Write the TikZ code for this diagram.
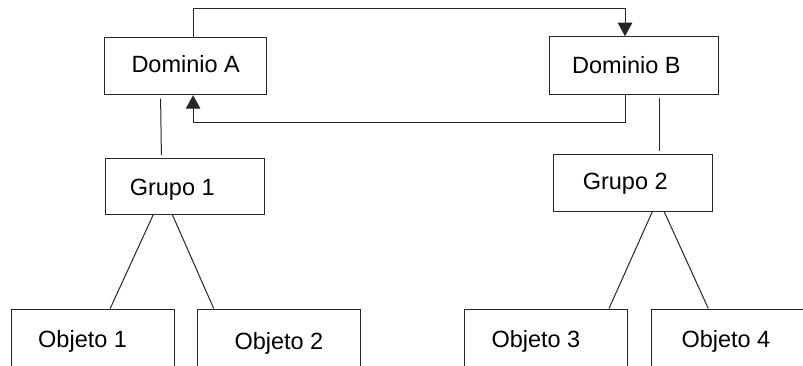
\documentclass[tikz,border=0pt]{standalone}
\usepackage{fontspec}
\setmainfont{Liberation Sans}
\usetikzlibrary{arrows.meta}
\begin{document}
\begin{tikzpicture}[x=1pt,y=-1pt,
  line width=1pt,
  boxnode/.style={draw=black!85, rectangle, inner sep=0pt, line width=1pt},
  lbl/.style={anchor=base west, inner sep=0pt, font=\fontsize{23.5}{28}\selectfont},
  conn/.style={draw=black!85, line width=1pt},
  arr/.style={conn, -{Triangle[length=13.5pt,width=14.5pt]}}]
\clip (0,0) rectangle (803,365);
\fill[white] (0,0) rectangle (803,365);
% boxes
\node[boxnode, minimum width=162.7pt, minimum height=57.4pt] (da) at (185.6,66) {};
\node[boxnode, minimum width=169pt, minimum height=57.6pt] (db) at (633.5,65.5) {};
\node[boxnode, minimum width=158.3pt, minimum height=55.7pt] (g1) at (184.9,186.2) {};
\node[boxnode, minimum width=159pt, minimum height=57pt] (g2) at (632.8,182.5) {};
\node[boxnode, minimum width=162.7pt, minimum height=70pt] (o1) at (92.7,344) {};
\node[boxnode, minimum width=163.2pt, minimum height=70pt] (o2) at (279.1,344) {};
\node[boxnode, minimum width=163.4pt, minimum height=70pt] (o3) at (546,344) {};
\node[boxnode, minimum width=163pt, minimum height=70pt] (o4) at (732.5,344) {};
% labels
\node[lbl] (tda) at (131,72.7) {Dominio A};
\node[lbl] (tdb) at (571.7,73) {Dominio B};
\node[lbl] (tg1) at (129.3,195) {Grupo 1};
\node[lbl] (tg2) at (582.3,189.5) {Grupo 2};
\node[lbl] (to1) at (37.7,347) {Objeto 1};
\node[lbl] (to2) at (234,349) {Objeto 2};
\node[lbl] (to3) at (491,347.3) {Objeto 3};
\node[lbl] (to4) at (681,347.3) {Objeto 4};
% domain connectors
\draw[arr] ([xshift=7.5pt]da.north) -- ++(0,-28) -| ([xshift=-8.5pt]db.north);
\draw[arr] ([xshift=-8.5pt]db.south) -- ++(0,28) -| ([xshift=7.5pt]da.south);
% domain to group
\draw[conn] ([xshift=-25pt,yshift=-3.5pt]da.south) -- ([xshift=-23.5pt,yshift=3pt]g1.north);
\draw[conn] ([xshift=25.5pt,yshift=-2.7pt]db.south) -- ([xshift=26.2pt,yshift=3pt]g2.north);
% group to objects
\draw[conn] ([xshift=-31.6pt]g1.south) -- ([xshift=17.5pt]o1.north);
\draw[conn] ([xshift=-12.6pt]g1.south) -- ([xshift=-65.4pt]o2.north);
\draw[conn] ([xshift=19.6pt]g2.south) -- ([xshift=63pt]o3.north);
\draw[conn] ([xshift=31.3pt]g2.south) -- ([xshift=-24.2pt]o4.north);
\end{tikzpicture}
\end{document}
